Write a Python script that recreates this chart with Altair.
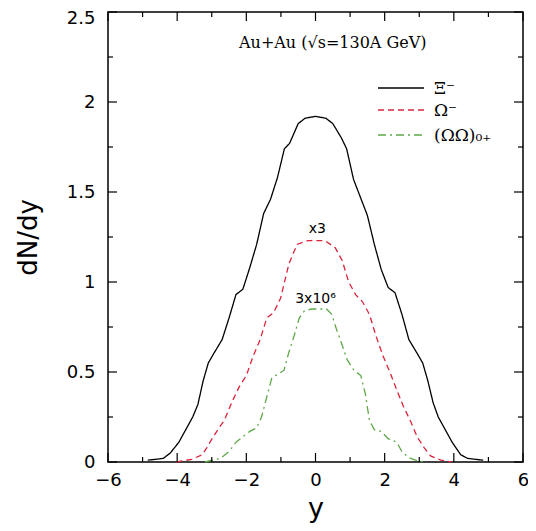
import altair as alt
import pandas as pd

# ---- data ----
xi_x = [-4.85, -4.4, -4.2, -3.95, -3.75, -3.55, -3.4, -3.25, -3.1, -2.95, -2.7, -2.5, -2.3, -2.1,
        -1.9, -1.7, -1.5, -1.3, -1.1, -0.9, -0.75, -0.5, -0.3, 0.0, 0.3, 0.5, 0.75, 0.9, 1.1, 1.3,
        1.5, 1.7, 1.9, 2.1, 2.3, 2.5, 2.7, 2.95, 3.1, 3.25, 3.4, 3.55, 3.75, 3.95, 4.2, 4.4, 4.85]
xi_y = [0.01, 0.02, 0.05, 0.11, 0.18, 0.25, 0.32, 0.45, 0.55, 0.60, 0.68, 0.80, 0.93, 0.96,
        1.08, 1.21, 1.38, 1.46, 1.58, 1.74, 1.77, 1.88, 1.91, 1.92, 1.91, 1.88, 1.80, 1.74, 1.57, 1.47,
        1.37, 1.21, 1.07, 0.97, 0.94, 0.82, 0.68, 0.60, 0.55, 0.45, 0.33, 0.25, 0.18, 0.11, 0.04, 0.02, 0.01]

om_x = [-4.02, -3.58, -3.28, -3.14, -2.99, -2.79, -2.64, -2.4, -2.2, -2.0, -1.8, -1.6, -1.41, -1.21,
        -1.01, -0.77, -0.62, -0.52, -0.22, 0.27, 0.57, 0.77, 0.96, 1.16, 1.36, 1.56, 1.75, 1.95, 2.15,
        2.35, 2.54, 2.74, 2.94, 3.14, 3.33, 3.63, 3.93]
om_y = [0.0, 0.015, 0.04, 0.08, 0.13, 0.19, 0.23, 0.34, 0.42, 0.48, 0.59, 0.68, 0.80, 0.83,
        0.91, 1.10, 1.17, 1.21, 1.23, 1.23, 1.19, 1.12, 1.0, 0.93, 0.89, 0.82, 0.70, 0.59, 0.50,
        0.40, 0.31, 0.23, 0.14, 0.08, 0.034, 0.01, 0.0]

oo_x = [-3.19, -2.99, -2.74, -2.49, -2.3, -2.1, -1.9, -1.7, -1.56, -1.41, -1.26, -1.06, -0.91, -0.77,
        -0.62, -0.47, -0.32, -0.12, 0.32, 0.47, 0.62, 0.77, 0.91, 1.11, 1.31, 1.44, 1.56, 1.7, 1.9,
        2.1, 2.35, 2.49, 2.69, 2.89, 3.14]
oo_y = [0.0, 0.01, 0.02, 0.06, 0.11, 0.14, 0.17, 0.19, 0.25, 0.36, 0.47, 0.49, 0.51, 0.61,
        0.70, 0.80, 0.84, 0.85, 0.85, 0.82, 0.73, 0.65, 0.57, 0.51, 0.48, 0.38, 0.23, 0.18, 0.17,
        0.13, 0.11, 0.06, 0.025, 0.01, 0.0]

legend_labels = ["Ξ⁻", "Ω⁻", "(ΩΩ)₀₊"]
series_colors = ["black", "#d9243c", "#5ea848"]
series_dash = [[1, 0], [6, 4], [8, 4, 2, 4]]

x_major = [-6, -4, -2, 0, 2, 4, 6]
x_minor = [-5, -3, -1, 1, 3, 5]
y_major = [0, 0.5, 1, 1.5, 2, 2.5]
y_minor = [0.25, 0.75, 1.25, 1.75, 2.25]

note_text = ["x3", "3x10⁶"]
note_x = [0.05, 0.0]
note_y = [1.256, 0.867]
title_text = ["Au+Au (√s=130A GeV)"]
title_x = [0.5]
title_y = [2.33]

# ---- layout ----
W, H = 415, 450
MAJ, MIN = 9, 5

xscale = alt.Scale(domain=[-6, 6], nice=False, zero=False)
yscale = alt.Scale(domain=[0, 2.5], nice=False, zero=False)

xaxis = alt.Axis(values=x_major, format="d", title="y", ticks=False, tickSize=0, domain=False,
                 grid=False, labelFont="DejaVu Sans", labelFontSize=18, labelColor="black",
                 labelPadding=9, labelFlush=False, titleFont="DejaVu Sans", titleFontSize=27,
                 titleFontWeight="normal", titleColor="black", titleX=W / 2, titleY=54,
                 titleBaseline="alphabetic", titleAlign="center")
yaxis = alt.Axis(values=y_major, format="~g", title="dN/dy", ticks=False, tickSize=0, domain=False,
                 grid=False, labelFont="DejaVu Sans", labelFontSize=18, labelColor="black",
                 labelPadding=13, labelFlush=False,
                 labelOffset={"condition": {"test": "datum.value >= 2.5", "value": 6}, "value": 0},
                 titleFont="DejaVu Sans", titleFontSize=26,
                 titleFontWeight="normal", titleColor="black", titleX=-80, titleY=H / 2,
                 titleAngle=270, titleBaseline="middle", titleAlign="center")

X = lambda: alt.X("x:Q", scale=xscale, axis=xaxis)
Y = lambda: alt.Y("v:Q", scale=yscale, axis=yaxis)

layers = []
for xs, ys, col, dash in zip([xi_x, om_x, oo_x], [xi_y, om_y, oo_y], series_colors, series_dash):
    df = pd.DataFrame({"x": xs, "v": ys})
    layers.append(
        alt.Chart(df).mark_line(color=col, strokeWidth=1.3, strokeDash=dash, interpolate="linear")
        .encode(x=X(), y=Y())
    )

# inward ticks on all four sides
for vals, ln in [(x_major, MAJ), (x_minor, MIN)]:
    d = pd.DataFrame({"x": vals})
    layers.append(alt.Chart(d).mark_rule(color="black", strokeWidth=1.2)
                  .encode(x=X(), y=alt.value(H), y2=alt.value(H - ln)))
    layers.append(alt.Chart(d).mark_rule(color="black", strokeWidth=1.2)
                  .encode(x=X(), y=alt.value(0), y2=alt.value(ln)))
for vals, ln in [(y_major, MAJ), (y_minor, MIN)]:
    d = pd.DataFrame({"v": vals})
    layers.append(alt.Chart(d).mark_rule(color="black", strokeWidth=1.2)
                  .encode(y=Y(), x=alt.value(0), x2=alt.value(ln)))
    layers.append(alt.Chart(d).mark_rule(color="black", strokeWidth=1.2)
                  .encode(y=Y(), x=alt.value(W), x2=alt.value(W - ln)))

# annotations
notes = pd.DataFrame({"x": note_x, "v": note_y, "t": note_text})
layers.append(alt.Chart(notes).mark_text(font="DejaVu Sans", fontSize=14, color="black",
                                         baseline="bottom")
              .encode(x=X(), y=Y(), text="t:N"))
tdf = pd.DataFrame({"x": title_x, "v": title_y, "t": title_text})
layers.append(alt.Chart(tdf).mark_text(font="DejaVu Serif", fontSize=16, color="black",
                                       baseline="middle")
              .encode(x=X(), y=Y(), text="t:N"))

# legend (inside the plot, top right)
leg_rows = [76, 98, 123]
for lab, col, dash, ry in zip(legend_labels, series_colors, series_dash, leg_rows):
    one = pd.DataFrame({"t": [lab]})
    layers.append(alt.Chart(one).mark_rule(color=col, strokeWidth=1.3, strokeDash=dash)
                  .encode(x=alt.value(270), x2=alt.value(316), y=alt.value(ry)))
    layers.append(alt.Chart(one).mark_text(font="DejaVu Serif", fontSize=17, color="black",
                                           align="left", baseline="middle")
                  .encode(x=alt.value(326), y=alt.value(ry + 1), text="t:N"))

chart = alt.layer(*layers).properties(
    width=W, height=H,
    autosize=alt.AutoSizeParams(type="none"),
    padding={"left": 100, "top": 4, "right": 5, "bottom": 61},
    background="white",
).configure_view(stroke="black", strokeWidth=1.5)

chart.save("out.html", embed_options={"renderer": "svg", "actions": False})
